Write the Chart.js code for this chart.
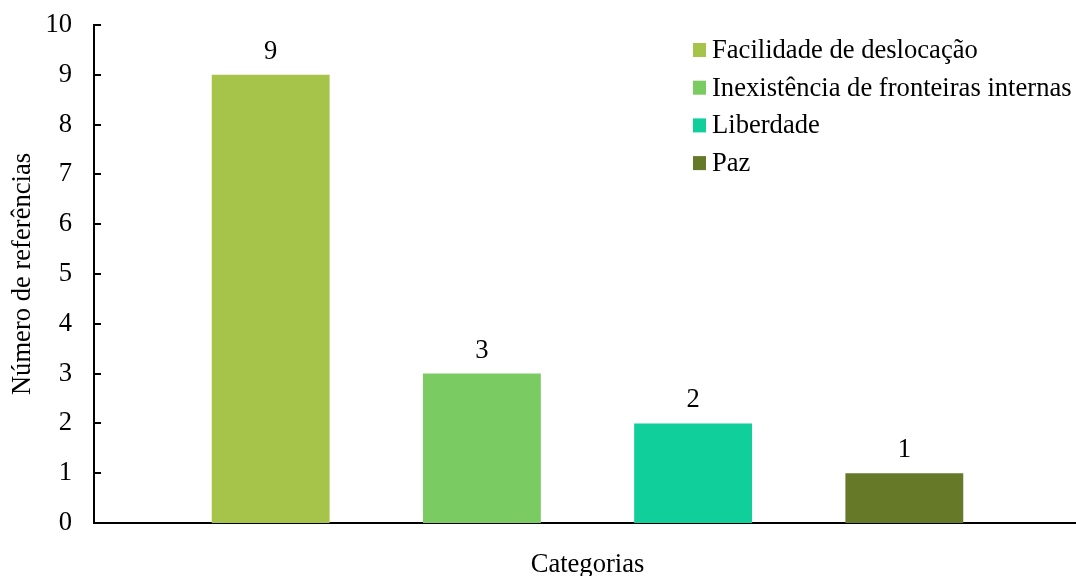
<!DOCTYPE html>
<html>
<head>
<meta charset="utf-8">
<script src="https://cdn.jsdelivr.net/npm/chart.js@4"></script>
<style>
  html, body { margin: 0; background: #fff; overflow: hidden; }
  #wrap { width: 1081px; height: 576px; }
</style>
</head>
<body>
<div id="wrap"><canvas id="refChart"></canvas></div>
<script>
// data
var categories = [''];
var seriesNames = ['Facilidade de deslocação', 'Inexistência de fronteiras internas', 'Liberdade', 'Paz'];
var seriesValues = [9, 3, 2, 1];
var seriesColors = ['#A6C34A', '#7ACB62', '#11CF9B', '#667929'];
var yTicks = [0, 1, 2, 3, 4, 5, 6, 7, 8, 9, 10];

var serif = "'Liberation Serif', 'Times New Roman', serif";
var fontSize = 26.6;
Chart.defaults.font.family = serif;
Chart.defaults.color = '#000';

var datasets = [];
for (var i = 0; i < seriesNames.length; ++i) {
    datasets.push({
        label: seriesNames[i],
        data: [seriesValues[i]],
        backgroundColor: seriesColors[i],
        categoryPercentage: 0.856,
        barPercentage: 0.558
    });
}

// tick marks pointing into the plot, value labels and the legend box
var extras = {
    id: 'extras',
    afterDraw: function (chart) {
        var ctx = chart.ctx;
        var y = chart.scales.y;
        var area = chart.chartArea;
        ctx.save();
        ctx.strokeStyle = '#000';
        ctx.lineWidth = 2;
        for (var t = 0; t < yTicks.length; ++t) {
            var py = Math.round(y.getPixelForValue(yTicks[t]));
            ctx.beginPath();
            ctx.moveTo(area.left, py);
            ctx.lineTo(area.left + 7, py);
            ctx.stroke();
        }

        ctx.fillStyle = '#000';
        ctx.font = fontSize + 'px ' + serif;
        ctx.textAlign = 'center';
        ctx.textBaseline = 'alphabetic';
        chart.data.datasets.forEach(function (ds, di) {
            var meta = chart.getDatasetMeta(di);
            meta.data.forEach(function (bar, j) {
                ctx.fillText(String(ds.data[j]), bar.x, bar.y - 16);
            });
        });

        ctx.textAlign = 'left';
        var lx = 693, ly = 50, step = 37.7;
        chart.data.datasets.forEach(function (ds, di) {
            var cy = ly + di * step;
            ctx.fillStyle = ds.backgroundColor;
            ctx.fillRect(lx, cy - 7, 13, 14);
            ctx.fillStyle = '#000';
            ctx.fillText(ds.label, lx + 19, cy + 8);
        });
        ctx.restore();
    }
};

new Chart(document.getElementById('refChart'), {
    type: 'bar',
    data: { labels: categories, datasets: datasets },
    plugins: [extras],
    options: {
        responsive: true,
        maintainAspectRatio: false,
        animation: false,
        layout: { padding: { top: 25, right: 0, left: 0, bottom: 0 } },
        plugins: {
            legend: { display: false },
            tooltip: { enabled: false }
        },
        scales: {
            x: {
                grid: { display: false, drawTicks: false },
                border: { color: '#000', width: 2 },
                ticks: { display: false },
                title: {
                    display: true,
                    text: 'Categorias',
                    font: { size: fontSize },
                    padding: { top: 20, bottom: -5 }
                },
                afterFit: function (s) { s.height = 53; s.paddingLeft = 0; s.paddingRight = 0; }
            },
            y: {
                min: 0,
                max: 10,
                grid: { display: false, drawTicks: false },
                border: { color: '#000', width: 2 },
                ticks: {
                    stepSize: 1,
                    padding: 22,
                    font: { size: fontSize }
                },
                title: {
                    display: true,
                    text: 'Número de referências',
                    font: { size: fontSize },
                    padding: { top: 7, bottom: 0 }
                },
                afterFit: function (s) { s.width = 94; s.paddingTop = 0; s.paddingBottom = 0; }
            }
        }
    }
});
</script>
</body>
</html>
